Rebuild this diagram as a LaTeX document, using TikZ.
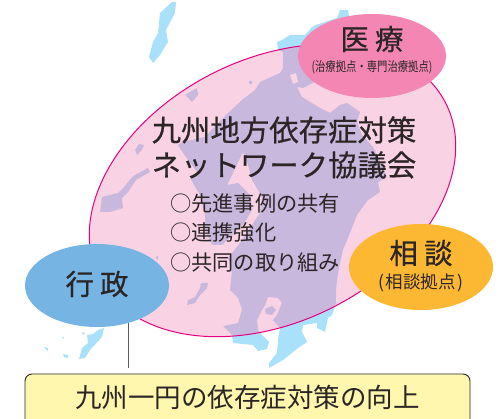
\documentclass[tikz,border=0pt]{standalone}
\usepackage{fontspec}
\setmainfont{Noto Sans CJK JP}
\newfontfamily\headfont[FakeBold=0.5]{Noto Sans CJK JP}
\usetikzlibrary{shapes.geometric}
\definecolor{seaink}{HTML}{2B2526}
\definecolor{landblue}{HTML}{A9E1FA}
\definecolor{landpurple}{HTML}{C9B8DE}
\definecolor{bigpink}{HTML}{F9D3E4}
\definecolor{rimpink}{HTML}{E6007E}
\definecolor{medpink}{HTML}{F386B3}
\definecolor{conorange}{HTML}{FDB833}
\definecolor{govblue}{HTML}{75B4E3}
\definecolor{boxyellow}{HTML}{FFF7AE}
\tikzset{
  bubble/.style={ellipse,inner sep=0pt,minimum width=#1},
  label/.style={text=seaink,inner sep=0pt,align=center},
  bigoval/.style={rotate around={26.6:(272.5,190.5)}},
}
\newcommand{\landshapes}{
  % Kyushu main land, clockwise from the north-west
  (278,50) -- (277,42) -- (282,40) -- (290,35) -- (305,35) -- (312,27) -- (316,25) -- (337,18) -- (340,10) -- (348,10) -- (350,22) -- (360,60) -- (315,82) -- (303,88) -- (297,87) -- (302,97) -- (320,108) -- (330,113) -- (340,105) -- (347,103) -- (360,112) -- (357,122) -- (362,135) -- (373,147) -- (382,165) -- (387,177) -- (378,182) -- (380,192) -- (368,200) -- (357,215) -- (352,228) -- (343,250) -- (340,263) -- (338,273) -- (336,290) -- (336,303) -- (332,315) -- (328,318) -- (325,332) -- (317,328) -- (317,323) -- (303,325) -- (302,332) -- (307,342) -- (298,348) -- (283,360) -- (269,368) -- (269,363) -- (277,353) -- (278,340) -- (280,328) -- (273,320) -- (277,315) -- (282,303) -- (278,298) -- (268,297) -- (265,305) -- (262,310) -- (257,320) -- (258,330) -- (262,335) -- (269,342) -- (267,349) -- (258,351) -- (253,345) -- (233,343) -- (232,335) -- (223,326) -- (238,323) -- (242,310) -- (238,298) -- (230,290) -- (232,270) -- (228,258) -- (240,243) -- (250,228) -- (260,213) -- (262,197) -- (252,180) -- (248,165) -- (243,152) -- (233,173) -- (227,185) -- (238,183) -- (250,195) -- (252,210) -- (245,222) -- (232,235) -- (222,245) -- (212,245) -- (205,230) -- (205,215) -- (200,195) -- (190,178) -- (197,172) -- (183,153) -- (178,145) -- (182,142) -- (205,137) -- (218,123) -- (228,113) -- (242,100) -- (255,90) -- (260,82) -- (280,73) -- (283,68) -- (283,52) -- cycle
  % Sakurajima
  (265,309) -- (272,306) -- (276,310) -- (272,315) -- (266,314) -- cycle
  % Tsushima
  (172,2) -- (176,2) -- (175,13) -- (166,30) -- (168,42) -- (160,55) -- (153,63) -- (149,57) -- (153,42) -- (158,33) -- (160,13) -- cycle
  % Iki
  (185,95) -- (197,88) -- (198,95) -- (192,102) -- cycle
  (249,81) -- (252,81) -- (252,84) -- (249,84) -- cycle
  % Goto
  (102,197) -- (118,193) -- (124,187) -- (133,176) -- (148,168) -- (150,172) -- (136,180) -- (128,192) -- (122,198) -- (123,208) -- (110,212) -- (100,212) -- cycle
  (139,144) -- (144,145) -- (142,150) -- (137,155) -- (135,150) -- cycle
  (155,257) -- (158,256) -- (158,260) -- cycle
  (200,284) -- (205,285) -- (202,289) -- cycle
  % Koshiki
  (202,283) -- (208,283) -- (207,288) -- (200,295) -- (195,303) -- (187,305) -- (188,300) -- (195,297) -- (200,288) -- cycle
  % Okinawa
  (104,328) -- (102,337) -- (90,350) -- (85,358) -- (79,359) -- (82,348) -- (88,343) -- (87,335) -- (93,334) -- (98,330) -- cycle
  (44,347) -- (48,348) -- (48,351) -- cycle
  (63,354) -- (68,355) -- (68,358) -- (64,357) -- cycle
  (62,337) -- (64,337) -- (63,339) -- cycle
  (82,332) -- (85,333) -- (83,335) -- cycle
}
\begin{document}
\begin{tikzpicture}[x=1pt,y=-1pt]
\useasboundingbox (0,0) rectangle (500,419);
% map below the ellipse
\fill[landblue] \landshapes;
% big ellipse with the land tinted inside it
\fill[bigpink,bigoval] (272.5,190.5) ellipse [x radius=194,y radius=131.5];
\begin{scope}
  \clip[bigoval] (272.5,190.5) ellipse [x radius=194,y radius=131.5];
  \fill[landpurple] \landshapes;
  \fill[bigpink] (290,75) -- (296,73) -- (298,82) -- (293,84) -- cycle;
\end{scope}
\draw[rimpink,line width=1pt,bigoval] (272.5,190.5) ellipse [x radius=194,y radius=131.5];
% connector and box
\node[draw=seaink,line width=0.9pt,fill=boxyellow,rounded corners=7pt,minimum width=445pt,minimum height=60pt,inner sep=0pt] (goal) at (247.5,404) {};
\coordinate (lineend) at (128.7,367.5);
% bubbles
\node[bubble=148pt,minimum height=84pt,fill=medpink] (med) at (372,56) {};
\node[bubble=144pt,minimum height=86pt,fill=conorange] (con) at (421,267) {};
\node[bubble=144pt,minimum height=83pt,fill=govblue] (gov) at (97,285.5) {};
\draw[seaink!75,line width=0.9pt] (gov.south -| lineend) ++(0,-4) -- (lineend);
% texts
\node[label,font=\headfont\fontsize{29.4}{29.4}\selectfont] (title1) at (284,130) {九州地方依存症対策};
\node[label,font=\headfont\fontsize{29.4}{29.4}\selectfont] (title2) at (284,165) {ネットワーク協議会};
\node[label,font=\fontsize{21.2}{21.2}\selectfont,anchor=west] (it1) at (170,203) {○先進事例の共有};
\node[label,font=\fontsize{21.2}{21.2}\selectfont,anchor=west] (it2) at (170,233) {○連携強化};
\node[label,font=\fontsize{21.2}{21.2}\selectfont,anchor=west] (it3) at (170,262) {○共同の取り組み};
\node[label,font=\headfont\fontsize{28.5}{28.5}\selectfont] (medt) at (372,39) {医\hspace{6pt}療};
\node[label,font=\fontsize{13}{13}\selectfont] (meds) at (372,67.5) {\scalebox{0.795}[1]{(治療拠点・専門治療拠点)}};
\node[label,font=\headfont\fontsize{28.5}{28.5}\selectfont] (cont) at (421,253) {相\hspace{6pt}談};
\node[label,font=\fontsize{17.5}{17.5}\selectfont] (cons) at (421,283) {(\hspace{1.5pt}相談拠点\hspace{1.5pt})};
\node[label,font=\headfont\fontsize{28.5}{28.5}\selectfont] (govt) at (97,284) {行\hspace{6pt}政};
\node[label,font=\fontsize{26.5}{26.5}\selectfont] (goalt) at (247.5,397) {九州一円の依存症対策の向上};
\end{tikzpicture}
\end{document}
